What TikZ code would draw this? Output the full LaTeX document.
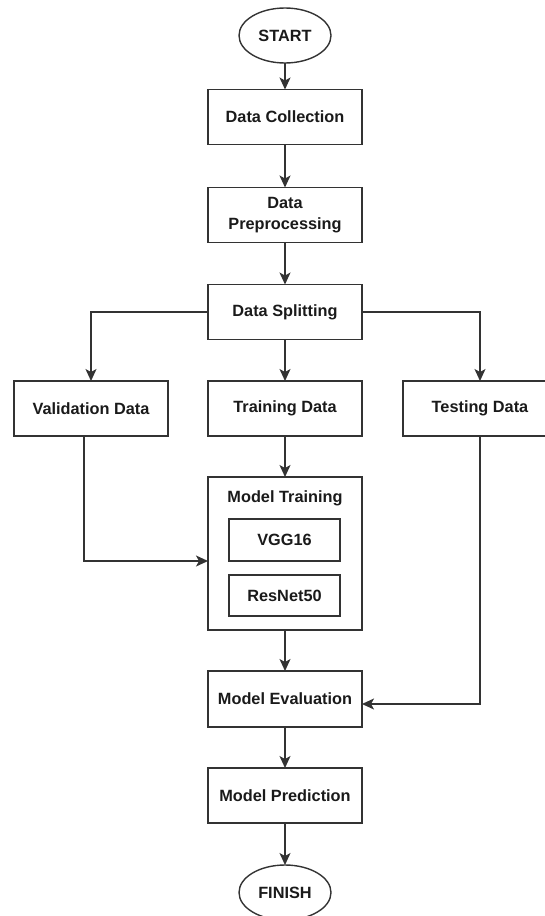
\documentclass[tikz,border=0pt]{standalone}
\usepackage{fontspec}
\setmainfont{Liberation Sans}
\usetikzlibrary{shapes.geometric,arrows.meta,calc}
\definecolor{linec}{HTML}{333333}
\definecolor{textc}{HTML}{1A1A1A}
\begin{document}
\begin{tikzpicture}[x=1pt,y=-1pt,
  every node/.style={font=\fontsize{16.3}{21}\selectfont\bfseries, text=textc, outer sep=0pt},
  boxnode/.style={draw=linec, line width=1.4pt, rectangle, minimum width=154pt, minimum height=55pt, inner sep=0pt, align=center},
  innerbox/.style={draw=linec, line width=1.4pt, rectangle, minimum width=111pt, minimum height=42pt, inner sep=0pt},
  termnode/.style={draw=linec, line width=1.4pt, ellipse, minimum width=92pt, minimum height=55pt, inner sep=0pt},
  arr/.style={draw=linec, line width=1.4pt, -{Stealth[length=12pt,width=11pt,inset=3pt]}},
  ln/.style={draw=linec, line width=1.4pt}]
\useasboundingbox (0,0) rectangle (544,916);
\node[termnode] (start) at (285,35.5) {START};
\node[boxnode] (dc) at (285,117) {Data Collection};
\node[boxnode] (dp) at (285,215) {Data\\Preprocessing};
\node[boxnode] (ds) at (285,312) {Data Splitting};
\node[boxnode] (val) at (91,408.5) {Validation Data};
\node[boxnode] (tr) at (285,408.5) {Training Data};
\node[boxnode] (te) at (480,408.5) {Testing Data};
\node[boxnode, minimum height=153pt] (mt) at (285,553.5) {};
\node (mttitle) at (285,498) {Model Training};
\node[innerbox] (vgg) at (284.5,540) {VGG16};
\node[innerbox, minimum height=41pt] (res) at (284.5,595.5) {ResNet50};
\node[boxnode, minimum height=56pt] (me) at (285,699) {Model Evaluation};
\node[boxnode] (mp) at (285,795.5) {Model Prediction};
\node[termnode] (finish) at (285,892.5) {FINISH};
\draw[arr] (start.south) -- (dc.north);
\draw[arr] (dc.south) -- (dp.north);
\draw[arr] (dp.south) -- (ds.north);
\draw[arr] (ds.west) -| (val.north);
\draw[arr] (ds.south) -- (tr.north);
\draw[arr] (ds.east) -| (te.north);
\draw[arr] (tr.south) -- (mt.north);
\draw[arr] ([xshift=-7pt]val.south) |- ([yshift=-7.5pt]mt.west);
\draw[arr] (te.south) |- ([yshift=-5pt]me.east);
\draw[arr] (mt.south) -- (me.north);
\draw[arr] (me.south) -- (mp.north);
\draw[arr] (mp.south) -- (finish.north);
\end{tikzpicture}
\end{document}
